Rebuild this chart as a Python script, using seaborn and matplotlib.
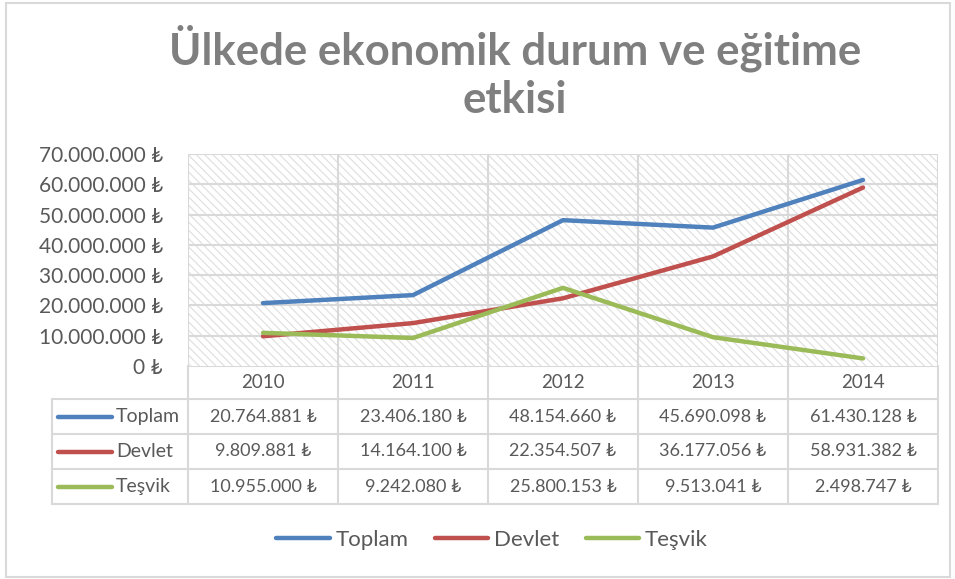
import matplotlib
matplotlib.use("Agg")
import matplotlib.pyplot as plt
from matplotlib.lines import Line2D
from matplotlib.patches import Rectangle
import seaborn as sns
import pandas as pd

# chart values
years = ["2010", "2011", "2012", "2013", "2014"]
series_names = ["Toplam", "Devlet", "Teşvik"]
toplam = [20764881, 23406180, 48154660, 45690098, 61430128]
devlet = [9809881, 14164100, 22354507, 36177056, 58931382]
tesvik = [10955000, 9242080, 25800153, 9513041, 2498747]
y_ticks = [0, 10000000, 20000000, 30000000, 40000000, 50000000, 60000000, 70000000]

colors = ["#4F81BD", "#C0504D", "#9BBB59"]
text_gray = "#595959"
grid_gray = "#d9d9d9"

df = pd.DataFrame({
    "Yıl": years * 3,
    "Tutar": toplam + devlet + tesvik,
    "Seri": [s for s in series_names for _ in years],
})


def lira(v):
    return f"{v:,.0f}".replace(",", ".") + " ₺"


sns.set_style("white")
plt.rcParams["font.family"] = ["Lato", "DejaVu Sans"]
plt.rcParams["hatch.linewidth"] = 0.8

W, H = 955, 579
fig = plt.figure(figsize=(W / 100, H / 100), dpi=100)

# pixel layout of the plot area
left, right, top, bottom = 188, 938, 154, 366
ax = fig.add_axes([left / W, 1 - bottom / H, (right - left) / W, (bottom - top) / H])

# hatched background like the excel chart
ax.add_patch(Rectangle((0, 0), 1, 1, transform=ax.transAxes, facecolor="white",
                       edgecolor="#dedede", hatch="\\\\\\\\", linewidth=0, zorder=0))

sns.lineplot(data=df, x="Yıl", y="Tutar", hue="Seri", hue_order=series_names,
             palette=colors, linewidth=3.2, sort=False, legend=False, ax=ax, zorder=3)

ax.set_xlim(-0.5, len(years) - 0.5)
ax.set_ylim(0, 70000000)
ax.set_yticks(y_ticks)
ax.set_yticklabels([lira(v) for v in y_ticks])
ax.set_xticks([])
ax.tick_params(axis="y", length=0, pad=18, labelsize=15, labelcolor=text_gray)
ax.set_xlabel("")
ax.set_ylabel("")
for v in y_ticks[1:]:
    ax.axhline(v, color=grid_gray, linewidth=1.5, zorder=1)
for i in range(len(years) + 1):
    ax.axvline(i - 0.5, color=grid_gray, linewidth=1.5, zorder=1)
for s in ax.spines.values():
    s.set_visible(False)

# data table under the chart, drawn in pixel coordinates
tax = fig.add_axes([0, 0, 1, 1], zorder=-1)
tax.set_xlim(0, W)
tax.set_ylim(H, 0)
tax.axis("off")

col_w = (right - left) / len(years)
row_h = [bottom, 399, 434, 469, 504]
label_left = 52
lc = dict(color=grid_gray, linewidth=1.5)

# header row
tax.plot([left, right], [row_h[0], row_h[0]], **lc)
for i in range(len(years) + 1):
    tax.plot([left + i * col_w] * 2, [row_h[0], row_h[-1]], **lc)
for r in range(1, len(row_h)):
    tax.plot([label_left, right], [row_h[r], row_h[r]], **lc)
tax.plot([label_left, label_left], [row_h[1], row_h[-1]], **lc)

for i, y in enumerate(years):
    tax.text(left + (i + 0.5) * col_w, (row_h[0] + row_h[1]) / 2, y,
             ha="center", va="center", fontsize=13.5, color=text_gray)

for r, (name, vals) in enumerate(zip(series_names, [toplam, devlet, tesvik])):
    yc = (row_h[r + 1] + row_h[r + 2]) / 2
    tax.plot([58, 112], [yc, yc], color=colors[r], linewidth=3.2, solid_capstyle="round")
    tax.text(116, yc, name, ha="left", va="center", fontsize=14, color=text_gray)
    for i, v in enumerate(vals):
        tax.text(left + (i + 0.5) * col_w, yc, lira(v), ha="center", va="center",
                 fontsize=13, color=text_gray)

# outer chart border
tax.add_patch(Rectangle((6, 3), 944, 574, fill=False, edgecolor=grid_gray, linewidth=1.5))

fig.text(515 / W, 1 - 72 / H, "Ülkede ekonomik durum ve eğitime\netkisi",
         ha="center", va="center", fontsize=31.5, fontweight="bold", color="#7f7f7f",
         linespacing=1.25)

handles = [Line2D([], [], color=c, linewidth=3.2, solid_capstyle="round") for c in colors]
fig.legend(handles, series_names, loc="center", bbox_to_anchor=(492 / W, 1 - 540 / H),
           ncol=3, frameon=False, fontsize=16, labelcolor=text_gray,
           handlelength=2.4, handletextpad=0.25, columnspacing=1.2)

fig.savefig("out.png", dpi=100)
